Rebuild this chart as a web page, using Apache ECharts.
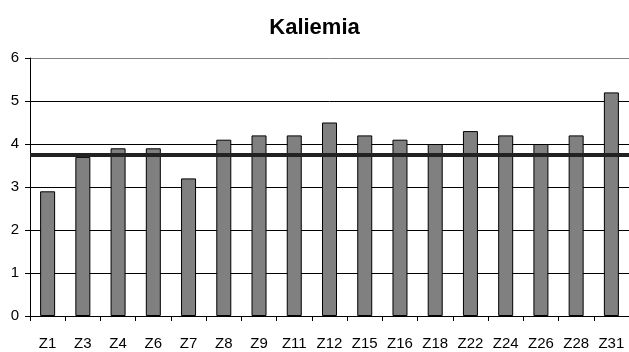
<!DOCTYPE html>
<html>
<head>
<meta charset="utf-8">
<script src="https://cdn.jsdelivr.net/npm/echarts@6/dist/echarts.min.js"></script>
<style>
html,body{margin:0;padding:0;background:#fff;}
#chart{width:629px;height:352px;}
</style>
</head>
<body>
<div id="chart"></div>
<script>
var titleText = 'Kaliemia';
var categories = ['Z1','Z3','Z4','Z6','Z7','Z8','Z9','Z11','Z12','Z15','Z16','Z18','Z22','Z24','Z26','Z28','Z31'];
var values = [2.9, 3.7, 3.9, 3.9, 3.2, 4.1, 4.2, 4.2, 4.5, 4.2, 4.1, 4.0, 4.3, 4.2, 4.0, 4.2, 5.2];
var referenceLine = [3.75];
var yTicks = [0, 6, 1];

var chart = echarts.init(document.getElementById('chart'), null, {renderer: 'canvas'});
var font = 'Liberation Sans, Arial, sans-serif';
chart.setOption({
  animation: false,
  backgroundColor: '#ffffff',
  title: {
    text: titleText,
    left: 'center',
    top: 12,
    textStyle: {fontFamily: font, fontSize: 22, fontWeight: 'bold', color: '#000'}
  },
  grid: {left: 30, width: 600, top: 58, bottom: 36, containLabel: false},
  xAxis: {
    type: 'category',
    data: categories,
    axisLine: {lineStyle: {color: '#000', width: 1}},
    axisTick: {show: true, length: 5, lineStyle: {color: '#000'}},
    axisLabel: {color: '#000', fontFamily: font, fontSize: 15, margin: 20, interval: 0}
  },
  yAxis: {
    type: 'value',
    min: yTicks[0],
    max: yTicks[1],
    interval: yTicks[2],
    axisLine: {show: true, lineStyle: {color: '#000', width: 1}},
    axisTick: {show: true, length: 5, lineStyle: {color: '#000'}},
    axisLabel: {color: '#000', fontFamily: font, fontSize: 15, margin: 11},
    splitLine: {show: true, lineStyle: {color: ['#000','#000','#000','#000','#000','#000','#808080'], width: 1}}
  },
  series: [{
    type: 'bar',
    data: values,
    barWidth: 15,
    itemStyle: {color: '#808080', borderColor: '#000', borderWidth: 1},
    markLine: {
      silent: true,
      symbol: 'none',
      label: {show: false},
      lineStyle: {color: '#222', width: 4, type: 'solid'},
      data: [{yAxis: referenceLine[0]}]
    }
  }]
});
</script>
</body>
</html>
